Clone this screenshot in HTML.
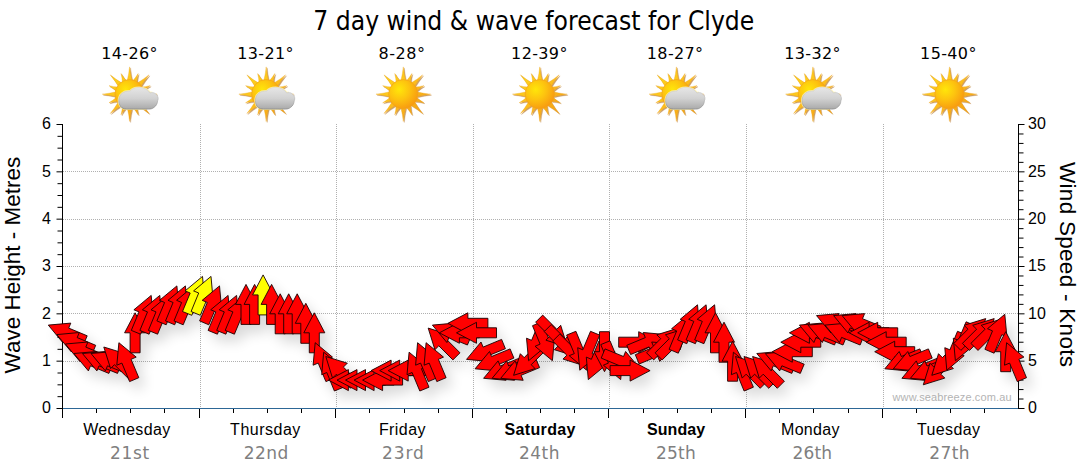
<!DOCTYPE html>
<html><head><meta charset="utf-8"><title>7 day wind &amp; wave forecast for Clyde</title>
<style>html,body{margin:0;padding:0;background:#fff;}body{width:1080px;height:475px;position:relative;overflow:hidden;}</style>
</head><body>
<svg width="1080" height="475" viewBox="0 0 1080 475" style="position:absolute;left:0;top:0">
<defs>
<filter id="sh" x="-5%" y="-20%" width="110%" height="150%"><feGaussianBlur in="SourceAlpha" stdDeviation="6.5"/><feOffset dx="6" dy="8" result="o"/><feComponentTransfer><feFuncA type="linear" slope="0.15"/></feComponentTransfer><feMerge><feMergeNode/><feMergeNode in="SourceGraphic"/></feMerge></filter>
<radialGradient id="sunG" cx="0.36" cy="0.34" r="0.75"><stop offset="0" stop-color="#ffe60a"/><stop offset="0.45" stop-color="#fdc40f"/><stop offset="1" stop-color="#f79410"/></radialGradient>
<linearGradient id="rayG" x1="0" y1="0" x2="1" y2="1"><stop offset="0" stop-color="#ffe21a"/><stop offset="0.5" stop-color="#fcbc1c"/><stop offset="1" stop-color="#f09414"/></linearGradient>
<linearGradient id="cloudG" x1="0" y1="0" x2="0" y2="1"><stop offset="0" stop-color="#e6e6e6"/><stop offset="0.5" stop-color="#d2d2d2"/><stop offset="1" stop-color="#aaaaaa"/></linearGradient><linearGradient id="cloudS" x1="0" y1="0" x2="0" y2="1"><stop offset="0" stop-color="#d8d8d8"/><stop offset="0.6" stop-color="#b0b0b0"/><stop offset="1" stop-color="#7c7c7c"/></linearGradient>
<filter id="isoft" x="-20%" y="-20%" width="140%" height="140%"><feGaussianBlur stdDeviation="0.35"/></filter>
<filter id="rsh" x="-20%" y="-20%" width="140%" height="140%"><feGaussianBlur in="SourceAlpha" stdDeviation="0.7"/><feOffset dx="0.8" dy="1" result="o"/><feFlood flood-color="#a85a00" flood-opacity="0.6"/><feComposite in2="o" operator="in"/><feMerge><feMergeNode/><feMergeNode in="SourceGraphic"/></feMerge></filter>

<g id="sun"><path d="M-2.46,-13.27 Q-0.68,-20.34 0.00,-27.30 Q0.68,-20.34 2.46,-13.27 Z M3.04,-13.15 Q6.26,-16.72 8.53,-20.60 Q7.40,-16.26 7.15,-11.45 Z M7.65,-11.13 Q13.90,-14.86 19.30,-19.30 Q14.86,-13.90 11.13,-7.65 Z M11.45,-7.15 Q16.26,-7.40 20.60,-8.53 Q16.72,-6.26 13.15,-3.04 Z M13.27,-2.46 Q20.34,-0.68 27.30,-0.00 Q20.34,0.68 13.27,2.46 Z M13.15,3.04 Q16.72,6.26 20.60,8.53 Q16.26,7.40 11.45,7.15 Z M11.13,7.65 Q14.86,13.90 19.30,19.30 Q13.90,14.86 7.65,11.13 Z M7.15,11.45 Q7.40,16.26 8.53,20.60 Q6.26,16.72 3.04,13.15 Z M2.46,13.27 Q0.68,20.34 0.00,27.30 Q-0.68,20.34 -2.46,13.27 Z M-3.04,13.15 Q-6.26,16.72 -8.53,20.60 Q-7.40,16.26 -7.15,11.45 Z M-7.65,11.13 Q-13.90,14.86 -19.30,19.30 Q-14.86,13.90 -11.13,7.65 Z M-11.45,7.15 Q-16.26,7.40 -20.60,8.53 Q-16.72,6.26 -13.15,3.04 Z M-13.27,2.46 Q-20.34,0.68 -27.30,0.00 Q-20.34,-0.68 -13.27,-2.46 Z M-13.15,-3.04 Q-16.72,-6.26 -20.60,-8.53 Q-16.26,-7.40 -11.45,-7.15 Z M-11.13,-7.65 Q-14.86,-13.90 -19.30,-19.30 Q-13.90,-14.86 -7.65,-11.13 Z M-7.15,-11.45 Q-7.40,-16.26 -8.53,-20.60 Q-6.26,-16.72 -3.04,-13.15 Z" fill="url(#rayG)" stroke="#eea11a" stroke-width="0.35" filter="url(#rsh)"/><circle r="14.6" fill="url(#sunG)" stroke="#f0a020" stroke-width="0.6"/></g>
<clipPath id="gc"><circle r="23"/></clipPath><g id="cloud" transform="translate(0,0.7) scale(1,0.91)"><path d="M-3,15.5 C-6.5,15.5 -9.5,13.5 -10.4,9.5 C-11.4,5.5 -10.5,0.5 -7.5,-2 C-5.5,-3.8 -2,-4.6 0.5,-4.4 C2.5,-7 6,-8.4 9.6,-8.3 C14,-8.2 18.5,-6 20.5,-2.2 C22,-3 24.5,-2.8 26.2,-1.2 C28.5,0.8 29.2,4 28,6.5 C27.8,9.5 26.5,12 24.5,13.5 C23,15 21,15.5 19,15.5 Z" fill="#fff3b0" stroke="#fff3b0" stroke-width="2.2" stroke-linejoin="round" opacity="0.85" clip-path="url(#gc)"/><path d="M-3,15.5 C-6.5,15.5 -9.5,13.5 -10.4,9.5 C-11.4,5.5 -10.5,0.5 -7.5,-2 C-5.5,-3.8 -2,-4.6 0.5,-4.4 C2.5,-7 6,-8.4 9.6,-8.3 C14,-8.2 18.5,-6 20.5,-2.2 C22,-3 24.5,-2.8 26.2,-1.2 C28.5,0.8 29.2,4 28,6.5 C27.8,9.5 26.5,12 24.5,13.5 C23,15 21,15.5 19,15.5 Z" fill="url(#cloudG)" stroke="url(#cloudS)" stroke-width="0.7"/></g>
</defs>
<g stroke="#b0b0b0" stroke-width="1" stroke-dasharray="1 1" shape-rendering="crispEdges"><line x1="63" y1="361.5" x2="1018" y2="361.5"/><line x1="63" y1="313.5" x2="1018" y2="313.5"/><line x1="63" y1="266.5" x2="1018" y2="266.5"/><line x1="63" y1="219.5" x2="1018" y2="219.5"/><line x1="63" y1="171.5" x2="1018" y2="171.5"/><line x1="200.5" y1="124" x2="200.5" y2="408"/><line x1="336.5" y1="124" x2="336.5" y2="408"/><line x1="473.5" y1="124" x2="473.5" y2="408"/><line x1="609.5" y1="124" x2="609.5" y2="408"/><line x1="746.5" y1="124" x2="746.5" y2="408"/><line x1="883.5" y1="124" x2="883.5" y2="408"/></g>
<g stroke="#000" stroke-width="1"><line x1="62.5" y1="124" x2="62.5" y2="418"/><line x1="1018.5" y1="124" x2="1018.5" y2="409"/><line x1="56.5" y1="408.50" x2="62" y2="408.50"/><line x1="57.5" y1="396.67" x2="62" y2="396.67"/><line x1="57.5" y1="384.83" x2="62" y2="384.83"/><line x1="57.5" y1="373.00" x2="62" y2="373.00"/><line x1="56.5" y1="361.17" x2="62" y2="361.17"/><line x1="57.5" y1="349.33" x2="62" y2="349.33"/><line x1="57.5" y1="337.50" x2="62" y2="337.50"/><line x1="57.5" y1="325.67" x2="62" y2="325.67"/><line x1="56.5" y1="313.83" x2="62" y2="313.83"/><line x1="57.5" y1="302.00" x2="62" y2="302.00"/><line x1="57.5" y1="290.17" x2="62" y2="290.17"/><line x1="57.5" y1="278.33" x2="62" y2="278.33"/><line x1="56.5" y1="266.50" x2="62" y2="266.50"/><line x1="57.5" y1="254.67" x2="62" y2="254.67"/><line x1="57.5" y1="242.83" x2="62" y2="242.83"/><line x1="57.5" y1="231.00" x2="62" y2="231.00"/><line x1="56.5" y1="219.17" x2="62" y2="219.17"/><line x1="57.5" y1="207.33" x2="62" y2="207.33"/><line x1="57.5" y1="195.50" x2="62" y2="195.50"/><line x1="57.5" y1="183.67" x2="62" y2="183.67"/><line x1="56.5" y1="171.83" x2="62" y2="171.83"/><line x1="57.5" y1="160.00" x2="62" y2="160.00"/><line x1="57.5" y1="148.17" x2="62" y2="148.17"/><line x1="57.5" y1="136.33" x2="62" y2="136.33"/><line x1="56.5" y1="124.50" x2="62" y2="124.50"/><line x1="1019" y1="408.50" x2="1024.5" y2="408.50"/><line x1="1019" y1="399.03" x2="1023.5" y2="399.03"/><line x1="1019" y1="389.57" x2="1023.5" y2="389.57"/><line x1="1019" y1="380.10" x2="1023.5" y2="380.10"/><line x1="1019" y1="370.63" x2="1023.5" y2="370.63"/><line x1="1019" y1="361.17" x2="1024.5" y2="361.17"/><line x1="1019" y1="351.70" x2="1023.5" y2="351.70"/><line x1="1019" y1="342.23" x2="1023.5" y2="342.23"/><line x1="1019" y1="332.77" x2="1023.5" y2="332.77"/><line x1="1019" y1="323.30" x2="1023.5" y2="323.30"/><line x1="1019" y1="313.83" x2="1024.5" y2="313.83"/><line x1="1019" y1="304.37" x2="1023.5" y2="304.37"/><line x1="1019" y1="294.90" x2="1023.5" y2="294.90"/><line x1="1019" y1="285.43" x2="1023.5" y2="285.43"/><line x1="1019" y1="275.97" x2="1023.5" y2="275.97"/><line x1="1019" y1="266.50" x2="1024.5" y2="266.50"/><line x1="1019" y1="257.03" x2="1023.5" y2="257.03"/><line x1="1019" y1="247.57" x2="1023.5" y2="247.57"/><line x1="1019" y1="238.10" x2="1023.5" y2="238.10"/><line x1="1019" y1="228.63" x2="1023.5" y2="228.63"/><line x1="1019" y1="219.17" x2="1024.5" y2="219.17"/><line x1="1019" y1="209.70" x2="1023.5" y2="209.70"/><line x1="1019" y1="200.23" x2="1023.5" y2="200.23"/><line x1="1019" y1="190.77" x2="1023.5" y2="190.77"/><line x1="1019" y1="181.30" x2="1023.5" y2="181.30"/><line x1="1019" y1="171.83" x2="1024.5" y2="171.83"/><line x1="1019" y1="162.37" x2="1023.5" y2="162.37"/><line x1="1019" y1="152.90" x2="1023.5" y2="152.90"/><line x1="1019" y1="143.43" x2="1023.5" y2="143.43"/><line x1="1019" y1="133.97" x2="1023.5" y2="133.97"/><line x1="1019" y1="124.50" x2="1024.5" y2="124.50"/></g>
<line x1="63" y1="408.5" x2="1018" y2="408.5" stroke="#2d6796" stroke-width="1.2"/>
<g stroke="#000" stroke-width="1" shape-rendering="crispEdges"><line x1="96.5" y1="409" x2="96.5" y2="413"/><line x1="130.5" y1="409" x2="130.5" y2="413"/><line x1="164.5" y1="409" x2="164.5" y2="413"/><line x1="199.5" y1="409" x2="199.5" y2="418"/><line x1="233.5" y1="409" x2="233.5" y2="413"/><line x1="267.5" y1="409" x2="267.5" y2="413"/><line x1="301.5" y1="409" x2="301.5" y2="413"/><line x1="335.5" y1="409" x2="335.5" y2="418"/><line x1="369.5" y1="409" x2="369.5" y2="413"/><line x1="404.5" y1="409" x2="404.5" y2="413"/><line x1="438.5" y1="409" x2="438.5" y2="413"/><line x1="472.5" y1="409" x2="472.5" y2="418"/><line x1="506.5" y1="409" x2="506.5" y2="413"/><line x1="540.5" y1="409" x2="540.5" y2="413"/><line x1="574.5" y1="409" x2="574.5" y2="413"/><line x1="608.5" y1="409" x2="608.5" y2="418"/><line x1="643.5" y1="409" x2="643.5" y2="413"/><line x1="677.5" y1="409" x2="677.5" y2="413"/><line x1="711.5" y1="409" x2="711.5" y2="413"/><line x1="745.5" y1="409" x2="745.5" y2="418"/><line x1="779.5" y1="409" x2="779.5" y2="413"/><line x1="813.5" y1="409" x2="813.5" y2="413"/><line x1="848.5" y1="409" x2="848.5" y2="413"/><line x1="882.5" y1="409" x2="882.5" y2="418"/><line x1="916.5" y1="409" x2="916.5" y2="413"/><line x1="950.5" y1="409" x2="950.5" y2="413"/><line x1="984.5" y1="409" x2="984.5" y2="413"/></g>
<text x="892.5" y="401" font-family="Liberation Sans, Arial, sans-serif" font-size="11" fill="#b4b4b4" textLength="119" lengthAdjust="spacing">www.seabreeze.com.au</text>
<g filter="url(#sh)"><g stroke="#1a0000" stroke-width="0.9" stroke-linejoin="miter"><polygon points="48.3,325.1 70.8,323.1 68.7,328.1 87.2,335.8 83.3,345.0 64.9,337.4 62.7,342.5" fill="#ff0000"/><polygon points="56.8,334.6 79.3,332.5 77.2,337.6 95.7,345.3 91.9,354.5 73.4,346.9 71.3,351.9" fill="#ff0000"/><polygon points="65.4,344.0 87.9,342.0 85.8,347.1 104.2,354.7 100.4,364.0 81.9,356.3 79.8,361.4" fill="#ff0000"/><polygon points="73.9,353.5 96.4,351.5 94.3,356.5 112.8,364.2 108.9,373.4 90.5,365.8 88.4,370.9" fill="#ff0000"/><polygon points="82.4,353.5 104.9,351.5 102.8,356.5 121.3,364.2 117.5,373.4 99.0,365.8 96.9,370.9" fill="#ff0000"/><polygon points="91.0,353.5 113.5,351.5 111.4,356.5 129.8,364.2 126.0,373.4 107.5,365.8 105.4,370.9" fill="#ff0000"/><polygon points="103.8,347.0 125.4,353.7 121.5,357.6 135.7,371.8 128.6,378.8 114.4,364.7 110.6,368.6" fill="#ff0000"/><polygon points="118.9,342.7 136.2,357.1 131.1,359.3 138.8,377.7 129.6,381.6 121.9,363.1 116.8,365.2" fill="#ff0000"/><polygon points="135.1,312.8 145.6,332.8 140.1,332.8 140.1,352.8 130.1,352.8 130.1,332.8 124.6,332.8" fill="#ff0000"/><polygon points="151.2,295.4 153.3,317.9 148.2,315.7 140.6,334.2 131.3,330.4 139.0,311.9 133.9,309.8" fill="#ff0000"/><polygon points="159.8,295.4 161.8,317.9 156.7,315.7 149.1,334.2 139.9,330.4 147.5,311.9 142.4,309.8" fill="#ff0000"/><polygon points="168.3,295.4 170.4,317.9 165.3,315.7 157.6,334.2 148.4,330.4 156.0,311.9 151.0,309.8" fill="#ff0000"/><polygon points="176.9,285.9 178.9,308.4 173.8,306.3 166.2,324.8 156.9,320.9 164.6,302.5 159.5,300.3" fill="#ff0000"/><polygon points="185.4,285.9 187.4,308.4 182.4,306.3 174.7,324.8 165.5,320.9 173.1,302.5 168.0,300.3" fill="#ff0000"/><polygon points="193.9,285.9 196.0,308.4 190.9,306.3 183.2,324.8 174.0,320.9 181.6,302.5 176.6,300.3" fill="#ff0000"/><polygon points="202.5,276.4 204.5,298.9 199.4,296.8 191.8,315.3 182.5,311.5 190.2,293.0 185.1,290.9" fill="#ffff00"/><polygon points="211.0,276.4 213.0,298.9 208.0,296.8 200.3,315.3 191.1,311.5 198.7,293.0 193.6,290.9" fill="#ffff00"/><polygon points="219.5,285.9 221.6,308.4 216.5,306.3 208.8,324.8 199.6,320.9 207.3,302.5 202.2,300.3" fill="#ff0000"/><polygon points="228.1,295.4 230.1,317.9 225.0,315.7 217.4,334.2 208.1,330.4 215.8,311.9 210.7,309.8" fill="#ff0000"/><polygon points="236.6,295.4 238.6,317.9 233.6,315.7 225.9,334.2 216.7,330.4 224.3,311.9 219.2,309.8" fill="#ff0000"/><polygon points="245.1,295.4 247.2,317.9 242.1,315.7 234.4,334.2 225.2,330.4 232.9,311.9 227.8,309.8" fill="#ff0000"/><polygon points="246.0,284.4 256.5,304.4 251.0,304.4 251.0,324.4 241.0,324.4 241.0,304.4 235.5,304.4" fill="#ff0000"/><polygon points="254.6,284.4 265.1,304.4 259.6,304.4 259.6,324.4 249.6,324.4 249.6,304.4 244.1,304.4" fill="#ff0000"/><polygon points="263.1,274.9 273.6,294.9 268.1,294.9 268.1,314.9 258.1,314.9 258.1,294.9 252.6,294.9" fill="#ffff00"/><polygon points="271.6,284.4 282.1,304.4 276.6,304.4 276.6,324.4 266.6,324.4 266.6,304.4 261.1,304.4" fill="#ff0000"/><polygon points="280.2,293.8 290.7,313.8 285.2,313.8 285.2,333.8 275.2,333.8 275.2,313.8 269.7,313.8" fill="#ff0000"/><polygon points="288.7,293.8 299.2,313.8 293.7,313.8 293.7,333.8 283.7,333.8 283.7,313.8 278.2,313.8" fill="#ff0000"/><polygon points="297.2,293.8 307.7,313.8 302.2,313.8 302.2,333.8 292.2,333.8 292.2,313.8 286.7,313.8" fill="#ff0000"/><polygon points="305.8,303.3 316.3,323.3 310.8,323.3 310.8,343.3 300.8,343.3 300.8,323.3 295.3,323.3" fill="#ff0000"/><polygon points="314.3,312.8 324.8,332.8 319.3,332.8 319.3,352.8 309.3,352.8 309.3,332.8 303.8,332.8" fill="#ff0000"/><polygon points="315.2,342.7 332.5,357.1 327.5,359.3 335.1,377.7 325.9,381.6 318.2,363.1 313.1,365.2" fill="#ff0000"/><polygon points="323.7,352.2 341.1,366.6 336.0,368.7 343.6,387.2 334.4,391.0 326.8,372.5 321.7,374.7" fill="#ff0000"/><polygon points="325.8,356.5 347.3,363.2 343.4,367.1 357.6,381.2 350.5,388.3 336.4,374.2 332.5,378.1" fill="#ff0000"/><polygon points="328.4,380.1 348.4,369.6 348.4,375.1 368.4,375.1 368.4,385.1 348.4,385.1 348.4,390.6" fill="#ff0000"/><polygon points="337.0,380.1 357.0,369.6 357.0,375.1 377.0,375.1 377.0,385.1 357.0,385.1 357.0,390.6" fill="#ff0000"/><polygon points="345.5,380.1 365.5,369.6 365.5,375.1 385.5,375.1 385.5,385.1 365.5,385.1 365.5,390.6" fill="#ff0000"/><polygon points="354.1,380.1 374.1,369.6 374.1,375.1 394.1,375.1 394.1,385.1 374.1,385.1 374.1,390.6" fill="#ff0000"/><polygon points="362.6,380.1 382.6,369.6 382.6,375.1 402.6,375.1 402.6,385.1 382.6,385.1 382.6,390.6" fill="#ff0000"/><polygon points="371.1,370.6 391.1,360.1 391.1,365.6 411.1,365.6 411.1,375.6 391.1,375.6 391.1,381.1" fill="#ff0000"/><polygon points="379.7,370.6 399.7,360.1 399.7,365.6 419.7,365.6 419.7,375.6 399.7,375.6 399.7,381.1" fill="#ff0000"/><polygon points="388.2,370.6 408.2,360.1 408.2,365.6 428.2,365.6 428.2,375.6 408.2,375.6 408.2,381.1" fill="#ff0000"/><polygon points="409.1,352.2 426.4,366.6 421.4,368.7 429.0,387.2 419.8,391.0 412.1,372.5 407.0,374.7" fill="#ff0000"/><polygon points="417.6,342.7 435.0,357.1 429.9,359.3 437.5,377.7 428.3,381.6 420.6,363.1 415.6,365.2" fill="#ff0000"/><polygon points="426.1,342.7 443.5,357.1 438.4,359.3 446.1,377.7 436.8,381.6 429.2,363.1 424.1,365.2" fill="#ff0000"/><polygon points="428.2,328.1 449.8,334.8 445.9,338.7 460.0,352.8 452.9,359.9 438.8,345.8 434.9,349.7" fill="#ff0000"/><polygon points="432.4,325.1 454.9,323.1 452.8,328.1 471.3,335.8 467.4,345.0 449.0,337.4 446.9,342.5" fill="#ff0000"/><polygon points="439.4,332.8 459.4,322.3 459.4,327.8 479.4,327.8 479.4,337.8 459.4,337.8 459.4,343.3" fill="#ff0000"/><polygon points="447.9,323.3 467.9,312.8 467.9,318.3 487.9,318.3 487.9,328.3 467.9,328.3 467.9,333.8" fill="#ff0000"/><polygon points="456.5,332.8 476.5,322.3 476.5,327.8 496.5,327.8 496.5,337.8 476.5,337.8 476.5,343.3" fill="#ff0000"/><polygon points="466.5,359.4 481.0,342.0 483.1,347.1 501.6,339.4 505.4,348.7 486.9,356.3 489.0,361.4" fill="#ff0000"/><polygon points="475.1,368.8 489.5,351.5 491.6,356.5 510.1,348.9 513.9,358.1 495.5,365.8 497.6,370.9" fill="#ff0000"/><polygon points="483.6,378.3 498.1,360.9 500.2,366.0 518.7,358.4 522.5,367.6 504.0,375.3 506.1,380.3" fill="#ff0000"/><polygon points="492.1,378.3 506.6,360.9 508.7,366.0 527.2,358.4 531.0,367.6 512.5,375.3 514.6,380.3" fill="#ff0000"/><polygon points="500.7,378.3 515.1,360.9 517.2,366.0 535.7,358.4 539.6,367.6 521.1,375.3 523.2,380.3" fill="#ff0000"/><polygon points="513.6,375.3 520.3,353.7 524.2,357.6 538.3,343.5 545.4,350.6 531.2,364.7 535.1,368.6" fill="#ff0000"/><polygon points="528.6,360.7 526.5,338.2 531.6,340.3 539.3,321.8 548.5,325.7 540.9,344.1 545.9,346.3" fill="#ff0000"/><polygon points="552.4,360.7 535.1,346.3 540.1,344.1 532.5,325.7 541.7,321.8 549.4,340.3 554.5,338.2" fill="#ff0000"/><polygon points="567.4,346.9 545.9,340.2 549.8,336.3 535.6,322.2 542.7,315.1 556.8,329.2 560.7,325.3" fill="#ff0000"/><polygon points="576.0,356.4 554.4,349.7 558.3,345.8 544.2,331.6 551.2,324.6 565.4,338.7 569.3,334.8" fill="#ff0000"/><polygon points="584.5,365.8 563.0,359.1 566.8,355.2 552.7,341.1 559.8,334.0 573.9,348.2 577.8,344.3" fill="#ff0000"/><polygon points="586.6,370.2 569.2,355.7 574.3,353.6 566.6,335.1 575.9,331.3 583.5,349.8 588.6,347.7" fill="#ff0000"/><polygon points="579.8,370.2 577.7,347.7 582.8,349.8 590.5,331.3 599.7,335.1 592.1,353.6 597.1,355.7" fill="#ff0000"/><polygon points="588.3,379.6 586.3,357.1 591.4,359.3 599.0,340.8 608.3,344.6 600.6,363.1 605.7,365.2" fill="#ff0000"/><polygon points="604.5,371.7 594.0,351.7 599.5,351.7 599.5,331.7 609.5,331.7 609.5,351.7 615.0,351.7" fill="#ff0000"/><polygon points="620.7,379.6 603.4,365.2 608.4,363.1 600.8,344.6 610.0,340.8 617.7,359.3 622.8,357.1" fill="#ff0000"/><polygon points="640.1,368.8 617.6,370.9 619.7,365.8 601.2,358.1 605.0,348.9 623.5,356.5 625.6,351.5" fill="#ff0000"/><polygon points="650.1,370.6 630.1,381.1 630.1,375.6 610.1,375.6 610.1,365.6 630.1,365.6 630.1,360.1" fill="#ff0000"/><polygon points="658.7,342.2 638.7,352.7 638.7,347.2 618.7,347.2 618.7,337.2 638.7,337.2 638.7,331.7" fill="#ff0000"/><polygon points="665.7,334.6 651.2,351.9 649.1,346.9 630.6,354.5 626.8,345.3 645.3,337.6 643.2,332.5" fill="#ff0000"/><polygon points="674.2,344.0 659.8,361.4 657.6,356.3 639.2,364.0 635.3,354.7 653.8,347.1 651.7,342.0" fill="#ff0000"/><polygon points="678.4,328.1 671.7,349.7 667.8,345.8 653.7,359.9 646.6,352.8 660.7,338.7 656.8,334.8" fill="#ff0000"/><polygon points="686.9,328.1 680.2,349.7 676.3,345.8 662.2,359.9 655.1,352.8 669.3,338.7 665.4,334.8" fill="#ff0000"/><polygon points="689.0,314.3 691.0,336.8 686.0,334.7 678.3,353.2 669.1,349.3 676.7,330.9 671.6,328.7" fill="#ff0000"/><polygon points="697.5,304.8 699.6,327.3 694.5,325.2 686.8,343.7 677.6,339.9 685.3,321.4 680.2,319.3" fill="#ff0000"/><polygon points="706.1,304.8 708.1,327.3 703.0,325.2 695.4,343.7 686.1,339.9 693.8,321.4 688.7,319.3" fill="#ff0000"/><polygon points="714.6,304.8 716.6,327.3 711.6,325.2 703.9,343.7 694.7,339.9 702.3,321.4 697.2,319.3" fill="#ff0000"/><polygon points="715.5,312.8 726.0,332.8 720.5,332.8 720.5,352.8 710.5,352.8 710.5,332.8 705.0,332.8" fill="#ff0000"/><polygon points="724.0,322.2 734.5,342.2 729.0,342.2 729.0,362.2 719.0,362.2 719.0,342.2 713.5,342.2" fill="#ff0000"/><polygon points="732.6,341.2 743.1,361.2 737.6,361.2 737.6,381.2 727.6,381.2 727.6,361.2 722.1,361.2" fill="#ff0000"/><polygon points="733.4,352.2 750.8,366.6 745.7,368.7 753.4,387.2 744.1,391.0 736.5,372.5 731.4,374.7" fill="#ff0000"/><polygon points="735.5,356.5 757.0,363.2 753.2,367.1 767.3,381.2 760.2,388.3 746.1,374.2 742.2,378.1" fill="#ff0000"/><polygon points="744.0,356.5 765.6,363.2 761.7,367.1 775.8,381.2 768.8,388.3 754.6,374.2 750.7,378.1" fill="#ff0000"/><polygon points="752.6,356.5 774.1,363.2 770.2,367.1 784.4,381.2 777.3,388.3 763.2,374.2 759.3,378.1" fill="#ff0000"/><polygon points="756.8,353.5 779.3,351.5 777.1,356.5 795.6,364.2 791.8,373.4 773.3,365.8 771.2,370.9" fill="#ff0000"/><polygon points="765.3,353.5 787.8,351.5 785.7,356.5 804.2,364.2 800.3,373.4 781.9,365.8 779.7,370.9" fill="#ff0000"/><polygon points="772.3,351.7 792.3,341.2 792.3,346.7 812.3,346.7 812.3,356.7 792.3,356.7 792.3,362.2" fill="#ff0000"/><polygon points="780.8,342.2 800.8,331.7 800.8,337.2 820.8,337.2 820.8,347.2 800.8,347.2 800.8,352.7" fill="#ff0000"/><polygon points="789.4,332.8 809.4,322.3 809.4,327.8 829.4,327.8 829.4,337.8 809.4,337.8 809.4,343.3" fill="#ff0000"/><polygon points="799.4,325.1 821.9,323.1 819.8,328.1 838.3,335.8 834.5,345.0 816.0,337.4 813.9,342.5" fill="#ff0000"/><polygon points="808.0,325.1 830.5,323.1 828.4,328.1 846.8,335.8 843.0,345.0 824.5,337.4 822.4,342.5" fill="#ff0000"/><polygon points="816.5,315.6 839.0,313.6 836.9,318.7 855.4,326.3 851.5,335.6 833.1,327.9 831.0,333.0" fill="#ff0000"/><polygon points="825.0,325.1 847.5,323.1 845.4,328.1 863.9,335.8 860.1,345.0 841.6,337.4 839.5,342.5" fill="#ff0000"/><polygon points="833.6,315.6 856.1,313.6 854.0,318.7 872.4,326.3 868.6,335.6 850.1,327.9 848.0,333.0" fill="#ff0000"/><polygon points="842.1,315.6 864.6,313.6 862.5,318.7 881.0,326.3 877.2,335.6 858.7,327.9 856.6,333.0" fill="#ff0000"/><polygon points="849.1,332.8 869.1,322.3 869.1,327.8 889.1,327.8 889.1,337.8 869.1,337.8 869.1,343.3" fill="#ff0000"/><polygon points="857.7,332.8 877.7,322.3 877.7,327.8 897.7,327.8 897.7,337.8 877.7,337.8 877.7,343.3" fill="#ff0000"/><polygon points="866.2,342.2 886.2,331.7 886.2,337.2 906.2,337.2 906.2,347.2 886.2,347.2 886.2,352.7" fill="#ff0000"/><polygon points="874.7,351.7 894.7,341.2 894.7,346.7 914.7,346.7 914.7,356.7 894.7,356.7 894.7,362.2" fill="#ff0000"/><polygon points="884.8,368.8 899.2,351.5 901.4,356.5 919.8,348.9 923.7,358.1 905.2,365.8 907.3,370.9" fill="#ff0000"/><polygon points="893.3,368.8 907.8,351.5 909.9,356.5 928.4,348.9 932.2,358.1 913.7,365.8 915.8,370.9" fill="#ff0000"/><polygon points="901.9,378.3 916.3,360.9 918.4,366.0 936.9,358.4 940.7,367.6 922.3,375.3 924.4,380.3" fill="#ff0000"/><polygon points="910.4,378.3 924.9,360.9 927.0,366.0 945.4,358.4 949.3,367.6 930.8,375.3 932.9,380.3" fill="#ff0000"/><polygon points="923.3,384.8 930.0,363.2 933.9,367.1 948.0,353.0 955.1,360.0 940.9,374.2 944.8,378.1" fill="#ff0000"/><polygon points="931.8,375.3 938.5,353.7 942.4,357.6 956.6,343.5 963.6,350.6 949.5,364.7 953.4,368.6" fill="#ff0000"/><polygon points="946.8,370.2 944.8,347.7 949.9,349.8 957.5,331.3 966.8,335.1 959.1,353.6 964.2,355.7" fill="#ff0000"/><polygon points="955.4,360.7 953.3,338.2 958.4,340.3 966.1,321.8 975.3,325.7 967.6,344.1 972.7,346.3" fill="#ff0000"/><polygon points="985.7,318.6 979.0,340.2 975.1,336.3 960.9,350.4 953.9,343.4 968.0,329.2 964.1,325.3" fill="#ff0000"/><polygon points="994.2,318.6 987.5,340.2 983.6,336.3 969.5,350.4 962.4,343.4 976.6,329.2 972.7,325.3" fill="#ff0000"/><polygon points="1002.8,318.6 996.0,340.2 992.2,336.3 978.0,350.4 970.9,343.4 985.1,329.2 981.2,325.3" fill="#ff0000"/><polygon points="1004.8,314.3 1006.9,336.8 1001.8,334.7 994.1,353.2 984.9,349.3 992.5,330.9 987.5,328.7" fill="#ff0000"/><polygon points="1005.7,331.7 1016.2,351.7 1010.7,351.7 1010.7,371.7 1000.7,371.7 1000.7,351.7 995.2,351.7" fill="#ff0000"/><polygon points="1006.6,342.7 1023.9,357.1 1018.9,359.3 1026.5,377.7 1017.3,381.6 1009.6,363.1 1004.5,365.2" fill="#ff0000"/></g></g>
<use href="#sun" x="129.6" y="94.2"/>
<use href="#cloud" x="129.6" y="94.3"/>
<use href="#sun" x="266.2" y="94.2"/>
<use href="#cloud" x="266.2" y="94.3"/>
<use href="#sun" x="403.3" y="94.2"/>
<use href="#sun" x="539.8" y="94.2"/>
<use href="#sun" x="676.4" y="94.2"/>
<use href="#cloud" x="676.4" y="94.3"/>
<use href="#sun" x="812.9" y="94.2"/>
<use href="#cloud" x="812.9" y="94.3"/>
<use href="#sun" x="949.5" y="94.2"/>
<text x="533.8" y="29.5" font-family="DejaVu Sans, Verdana, sans-serif" font-size="26.67" text-anchor="middle" textLength="441" lengthAdjust="spacingAndGlyphs">7 day wind &amp; wave forecast for Clyde</text>
<text x="101.2" y="58.8" font-family="DejaVu Sans, Verdana, sans-serif" font-size="16" textLength="56.3" lengthAdjust="spacing">14-26°</text>
<text x="237.2" y="58.8" font-family="DejaVu Sans, Verdana, sans-serif" font-size="16" textLength="56.3" lengthAdjust="spacing">13-21°</text>
<text x="378.5" y="58.8" font-family="DejaVu Sans, Verdana, sans-serif" font-size="16" textLength="46.6" lengthAdjust="spacing">8-28°</text>
<text x="511.1" y="58.8" font-family="DejaVu Sans, Verdana, sans-serif" font-size="16" textLength="56.3" lengthAdjust="spacing">12-39°</text>
<text x="646.8" y="58.8" font-family="DejaVu Sans, Verdana, sans-serif" font-size="16" textLength="56.3" lengthAdjust="spacing">18-27°</text>
<text x="784.2" y="58.8" font-family="DejaVu Sans, Verdana, sans-serif" font-size="16" textLength="56.3" lengthAdjust="spacing">13-32°</text>
<text x="920.1" y="58.8" font-family="DejaVu Sans, Verdana, sans-serif" font-size="16" textLength="56.3" lengthAdjust="spacing">15-40°</text>
<text x="51.0" y="413.3" font-family="Liberation Sans, Arial, sans-serif" font-size="16" text-anchor="end" fill="#000" >0</text>
<text x="51.0" y="366.0" font-family="Liberation Sans, Arial, sans-serif" font-size="16" text-anchor="end" fill="#000" >1</text>
<text x="51.0" y="318.6" font-family="Liberation Sans, Arial, sans-serif" font-size="16" text-anchor="end" fill="#000" >2</text>
<text x="51.0" y="271.3" font-family="Liberation Sans, Arial, sans-serif" font-size="16" text-anchor="end" fill="#000" >3</text>
<text x="51.0" y="224.0" font-family="Liberation Sans, Arial, sans-serif" font-size="16" text-anchor="end" fill="#000" >4</text>
<text x="51.0" y="176.6" font-family="Liberation Sans, Arial, sans-serif" font-size="16" text-anchor="end" fill="#000" >5</text>
<text x="51.0" y="129.3" font-family="Liberation Sans, Arial, sans-serif" font-size="16" text-anchor="end" fill="#000" >6</text>
<text x="1028.0" y="413.3" font-family="Liberation Sans, Arial, sans-serif" font-size="16" text-anchor="start" fill="#000" >0</text>
<text x="1028.0" y="366.0" font-family="Liberation Sans, Arial, sans-serif" font-size="16" text-anchor="start" fill="#000" >5</text>
<text x="1028.0" y="318.6" font-family="Liberation Sans, Arial, sans-serif" font-size="16" text-anchor="start" fill="#000" >10</text>
<text x="1028.0" y="271.3" font-family="Liberation Sans, Arial, sans-serif" font-size="16" text-anchor="start" fill="#000" >15</text>
<text x="1028.0" y="224.0" font-family="Liberation Sans, Arial, sans-serif" font-size="16" text-anchor="start" fill="#000" >20</text>
<text x="1028.0" y="176.6" font-family="Liberation Sans, Arial, sans-serif" font-size="16" text-anchor="start" fill="#000" >25</text>
<text x="1028.0" y="129.3" font-family="Liberation Sans, Arial, sans-serif" font-size="16" text-anchor="start" fill="#000" >30</text>
<text x="83.2" y="434.5" font-family="Liberation Sans, Arial, sans-serif" font-size="16" textLength="87.0" lengthAdjust="spacing" >Wednesday</text>
<text x="110.0" y="458.6" font-family="DejaVu Sans, Verdana, sans-serif" font-size="17" fill="#808080" textLength="39.1" lengthAdjust="spacing">21st</text>
<text x="230.1" y="434.5" font-family="Liberation Sans, Arial, sans-serif" font-size="16" textLength="70.2" lengthAdjust="spacing" >Thursday</text>
<text x="243.8" y="458.6" font-family="DejaVu Sans, Verdana, sans-serif" font-size="17" fill="#808080" textLength="44.6" lengthAdjust="spacing">22nd</text>
<text x="378.9" y="434.5" font-family="Liberation Sans, Arial, sans-serif" font-size="16" textLength="46.6" lengthAdjust="spacing" >Friday</text>
<text x="382.0" y="458.6" font-family="DejaVu Sans, Verdana, sans-serif" font-size="17" fill="#808080" textLength="41.8" lengthAdjust="spacing">23rd</text>
<text x="504.5" y="434.5" font-family="Liberation Sans, Arial, sans-serif" font-size="16" textLength="71.0" lengthAdjust="spacing" font-weight="bold">Saturday</text>
<text x="519.0" y="458.6" font-family="DejaVu Sans, Verdana, sans-serif" font-size="17" fill="#808080" textLength="40.5" lengthAdjust="spacing">24th</text>
<text x="647.1" y="434.5" font-family="Liberation Sans, Arial, sans-serif" font-size="16" textLength="58.0" lengthAdjust="spacing" font-weight="bold">Sunday</text>
<text x="655.9" y="458.6" font-family="DejaVu Sans, Verdana, sans-serif" font-size="17" fill="#808080" textLength="39.9" lengthAdjust="spacing">25th</text>
<text x="781.0" y="434.5" font-family="Liberation Sans, Arial, sans-serif" font-size="16" textLength="58.5" lengthAdjust="spacing" >Monday</text>
<text x="792.4" y="458.6" font-family="DejaVu Sans, Verdana, sans-serif" font-size="17" fill="#808080" textLength="39.7" lengthAdjust="spacing">26th</text>
<text x="917.0" y="434.5" font-family="Liberation Sans, Arial, sans-serif" font-size="16" textLength="63.0" lengthAdjust="spacing" >Tuesday</text>
<text x="929.2" y="458.6" font-family="DejaVu Sans, Verdana, sans-serif" font-size="17" fill="#808080" textLength="40.3" lengthAdjust="spacing">27th</text>
<text transform="translate(20,373.4) rotate(-90)" font-family="Liberation Sans, Arial, sans-serif" font-size="22.4" textLength="216.5" lengthAdjust="spacing">Wave Height - Metres</text>
<text transform="translate(1060,162) rotate(90)" font-family="Liberation Sans, Arial, sans-serif" font-size="22.6" textLength="205" lengthAdjust="spacing">Wind Speed - Knots</text>
</svg>
</body></html>
